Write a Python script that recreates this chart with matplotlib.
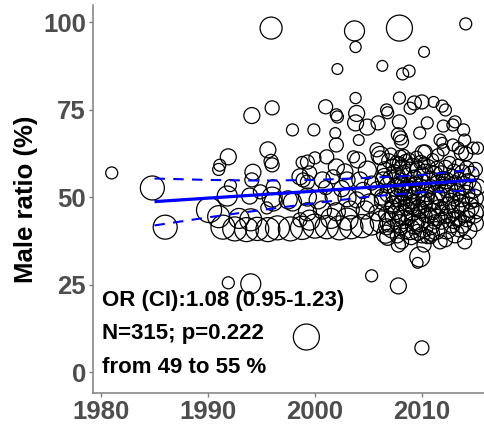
import numpy as np
import matplotlib
matplotlib.use("Agg")
import matplotlib.pyplot as plt

plt.rcParams['font.family'] = ['Liberation Sans', 'DejaVu Sans']

# early studies (before ~1999)
early_year = [1981.0, 1984.8, 1986.0, 1990.1, 1991.0, 1991.1, 1991.8, 1992.1, 1991.9, 1991.9,
              1994.0, 1994.1, 1995.9, 1996.0, 1995.6, 1995.9, 1996.0, 1994.2, 1997.9, 1994.1,
              1993.9, 1994.9, 1996.0, 1996.1, 1997.5, 1997.9, 1996.1, 1998.8, 1998.9, 1995.5,
              1998.6, 1998.6]
early_ratio = [57.0, 52.7, 41.5, 46.4, 58.0, 59.2, 50.4, 53.4, 61.6, 25.6,
               25.3, 73.4, 98.4, 75.6, 63.6, 60.3, 59.3, 57.2, 69.3, 55.0,
               50.4, 51.6, 50.1, 48.7, 49.3, 48.7, 53.0, 60.0, 55.0, 47.0,
               43.6, 55.9]
early_n = [38, 325, 325, 360, 38, 38, 208, 38, 112, 38,
           208, 112, 264, 73, 112, 73, 73, 112, 38, 73,
           112, 73, 208, 158, 158, 158, 73, 38, 73, 38,
           73, 112]

# lower band of large studies around 42 %
band_year = [1991.4, 1992.5, 1993.6, 1994.6, 1995.6, 1996.5, 1997.7, 1998.8, 2000.0, 2001.1,
             2002.3, 2003.4, 2004.4, 2005.3, 2006.2, 1991.0, 1992.9, 1994.0, 1999.5, 2001.5,
             2003.0]
band_ratio = [41.5, 41.0, 40.8, 41.0, 40.8, 41.3, 41.0, 41.3, 41.8, 41.5,
              41.3, 41.5, 41.8, 42.4, 43.0, 44.5, 44.0, 43.6, 43.5, 44.0,
              43.8]
band_n = [325, 325, 325, 300, 325, 325, 325, 300, 325, 300,
          325, 300, 300, 264, 264, 264, 208, 264, 208, 208,
          264]

# 1999-2006 middle
mid_year = [1999.3, 2000.0, 2001.1, 2002.0, 2003.6, 2004.0, 2002.8, 2004.9, 2006.1, 1999.5,
            1999.3, 2000.7, 2001.7, 2003.0, 2004.2, 2005.3, 2006.4, 1999.3, 2000.3, 2001.7,
            2003.0, 2003.9, 2005.1, 2006.3, 1999.3, 2000.7, 2002.0, 2003.3, 2004.7, 2005.8,
            2006.7, 2002.5, 2004.5, 2005.8, 2001.0]
mid_ratio = [60.1, 61.3, 61.6, 58.7, 61.6, 60.7, 57.3, 57.8, 61.3, 57.0,
             54.4, 55.0, 55.9, 55.0, 55.0, 54.1, 55.0, 50.1, 49.3, 50.1,
             49.9, 49.3, 48.4, 50.1, 45.9, 46.4, 45.9, 46.4, 46.4, 45.6,
             41.6, 52.5, 52.0, 52.5, 52.8]
mid_n = [73, 38, 73, 112, 38, 112, 112, 158, 73, 73,
         73, 112, 73, 112, 112, 73, 112, 158, 158, 112,
         158, 112, 158, 112, 158, 158, 158, 158, 158, 112,
         112, 112, 112, 73, 73]

# high ratios
high_year = [2003.7, 2003.8, 2007.9, 2014.1, 2010.2, 2002.1, 2006.3, 2008.2, 2008.8, 1999.9,
             2001.0, 2002.0, 2002.1, 2003.8, 2003.9, 2003.8, 2004.9, 2005.9, 2006.7, 2006.8,
             2007.9, 2007.9, 2008.9, 2009.3, 2010.0, 2011.1, 2011.9, 2012.2, 2012.0, 2012.9,
             2013.9, 2014.0, 2001.9, 2002.0, 2004.1, 2005.8, 2006.1, 2008.0, 2008.1, 2009.8,
             2010.1, 2010.3, 2011.9, 2013.7, 2014.1, 2010.5, 2013.1, 2012.9, 2013.4, 2014.8,
             2015.2, 2007.8, 2011.7, 2012.0]
high_ratio = [97.6, 93.0, 98.4, 99.6, 91.6, 86.7, 87.6, 85.3, 86.1, 69.3,
              75.9, 73.6, 73.0, 78.4, 74.0, 71.3, 70.1, 71.3, 75.0, 74.2,
              78.4, 71.6, 75.5, 77.0, 77.3, 77.3, 76.1, 75.0, 70.4, 70.7,
              69.3, 66.4, 68.4, 65.0, 66.4, 63.6, 62.0, 67.0, 65.9, 68.4,
              62.7, 63.0, 65.6, 62.7, 62.5, 71.3, 71.6, 65.0, 64.1, 64.1,
              64.1, 67.9, 66.4, 63.6]
high_n = [208, 25, 391, 38, 20, 20, 20, 38, 38, 38,
          73, 38, 38, 25, 112, 112, 112, 73, 38, 38,
          38, 73, 38, 73, 73, 20, 38, 38, 38, 38,
          38, 38, 20, 73, 20, 73, 158, 73, 73, 38,
          112, 73, 20, 73, 73, 38, 38, 38, 38, 38,
          38, 73, 38, 38]

# low ratios
low_year = [2005.3, 2007.8, 1999.2, 2010.0, 2009.6, 2009.8, 2007.8, 2008.1, 2010.2, 2011.7,
            2012.2, 2014.0, 2010.8]
low_ratio = [27.6, 24.7, 10.1, 7.0, 31.3, 33.0, 36.4, 37.3, 36.4, 37.3,
             37.9, 37.3, 38.5]
low_n = [38, 112, 391, 73, 20, 208, 73, 73, 73, 73,
         73, 73, 38]

# dense recent cluster
core_year = [2006.5, 2006.8, 2006.4, 2006.7, 2006.6, 2006.9, 2006.5,
             2007.1, 2006.9, 2007.2, 2007.0, 2007.3, 2006.8, 2007.1,
             2007.4, 2007.6, 2007.3, 2007.5, 2007.2, 2007.6, 2007.4,
             2007.9, 2007.7, 2008.0, 2007.8, 2007.6, 2007.9, 2007.7, 2008.0,
             2008.2, 2008.0, 2008.3, 2008.1, 2008.2, 2008.0, 2008.3, 2008.1,
             2008.5, 2008.3, 2008.6, 2008.4, 2008.6, 2008.3, 2008.5,
             2008.9, 2008.7, 2008.8, 2009.0, 2008.7, 2008.9, 2008.8, 2009.0,
             2009.1, 2009.3, 2009.0, 2009.2, 2009.1, 2009.3, 2009.0,
             2009.6, 2009.4, 2009.5, 2009.7, 2009.4, 2009.6, 2009.5, 2009.3,
             2009.9, 2010.0, 2009.8, 2010.1, 2009.9, 2009.8, 2010.0,
             2010.3, 2010.1, 2010.4, 2010.2, 2010.3, 2010.1, 2010.2, 2010.4,
             2010.6, 2010.8, 2010.5, 2010.7, 2010.6, 2010.8, 2010.5,
             2011.0, 2011.2, 2010.9, 2011.1, 2011.0, 2011.2, 2010.9,
             2011.4, 2011.5, 2011.3, 2011.6, 2011.4, 2011.3, 2011.5,
             2011.8, 2012.0, 2011.7, 2011.9, 2011.8, 2012.0,
             2012.2, 2012.3, 2012.1, 2012.4, 2012.2, 2012.3,
             2012.6, 2012.8, 2012.5, 2012.7, 2012.6, 2012.8,
             2013.0, 2013.1, 2012.9, 2013.2, 2013.0, 2013.1,
             2013.4, 2013.5, 2013.3, 2013.6, 2013.4, 2013.5,
             2013.8, 2013.9, 2013.7, 2014.0, 2013.8,
             2014.2, 2014.3, 2014.1, 2014.4, 2014.2, 2014.3,
             2014.6, 2014.7, 2014.5, 2014.8,
             2015.0, 2015.2, 2014.9, 2015.1, 2015.0]
core_ratio = [58.2, 53.5, 49.0, 45.2, 39.5, 60.5, 56.0,
              55.5, 51.2, 47.3, 43.0, 59.0, 38.6, 62.4,
              57.4, 52.8, 48.1, 44.6, 41.0, 60.2, 50.5,
              59.6, 56.1, 53.2, 49.8, 46.0, 42.5, 39.0, 61.8,
              58.5, 55.0, 51.6, 48.5, 45.1, 41.3, 62.0, 53.3,
              60.3, 56.8, 52.4, 50.0, 47.2, 43.7, 40.2,
              57.8, 54.2, 51.0, 47.6, 44.2, 40.8, 61.0, 49.0,
              59.1, 55.4, 52.1, 48.8, 45.6, 42.1, 38.5,
              58.0, 53.8, 50.6, 47.0, 43.5, 40.0, 61.5, 55.8,
              60.0, 56.4, 52.7, 49.4, 46.3, 42.8, 39.3,
              57.2, 54.6, 51.4, 48.0, 44.9, 41.5, 59.8, 50.0,
              58.8, 55.2, 52.0, 48.6, 45.0, 41.9, 38.8,
              60.8, 56.6, 53.0, 49.2, 46.0, 43.0, 39.8,
              58.3, 54.0, 50.8, 47.4, 44.3, 40.5, 62.2,
              57.0, 53.6, 50.2, 46.8, 43.2, 55.4,
              58.6, 54.8, 51.2, 47.8, 44.6, 41.0,
              60.0, 56.0, 52.5, 48.9, 45.3, 42.2,
              57.5, 53.9, 50.4, 46.6, 43.4, 39.6,
              59.2, 55.2, 51.6, 48.1, 44.0, 41.3,
              57.0, 53.4, 49.6, 45.8, 42.4,
              58.4, 54.5, 50.9, 47.2, 43.9, 40.6,
              56.6, 52.3, 49.0, 45.5,
              58.0, 53.0, 49.8, 46.2, 42.6]
core_n = [73, 112, 158, 112, 158, 73, 112,
          112, 158, 73, 208, 73, 112, 38,
          73, 158, 112, 208, 158, 38, 112,
          73, 112, 208, 158, 112, 158, 73, 38,
          112, 73, 158, 112, 208, 73, 38, 112,
          73, 112, 158, 73, 112, 158, 73,
          112, 73, 158, 112, 73, 208, 38, 112,
          73, 112, 158, 73, 112, 158, 73,
          112, 73, 158, 112, 208, 112, 38, 73,
          73, 112, 158, 73, 112, 158, 112,
          112, 73, 158, 112, 73, 208, 38, 112,
          73, 112, 73, 158, 112, 158, 73,
          38, 112, 73, 158, 112, 73, 112,
          73, 112, 158, 73, 112, 158, 38,
          73, 112, 158, 73, 112, 73,
          73, 112, 158, 112, 73, 208,
          38, 73, 158, 112, 158, 112,
          73, 112, 73, 158, 112, 158,
          38, 73, 112, 158, 112, 158,
          112, 158, 112, 208, 158,
          73, 112, 158, 208, 112, 158,
          112, 158, 112, 208,
          73, 112, 158, 112, 112]

# logistic fit and 95% band
fit_year = [1985, 1990, 1995, 2000, 2005, 2010, 2015]
fit_mid = [48.8, 49.8, 50.8, 51.8, 52.9, 53.9, 55.0]
fit_lo = [42.0, 44.3, 46.4, 48.4, 50.2, 51.5, 52.0]
fit_hi = [55.4, 55.0, 54.8, 55.0, 55.6, 56.4, 58.0]

year = np.array(early_year + band_year + mid_year + high_year + low_year + core_year)
ratio = np.array(early_ratio + band_ratio + mid_ratio + high_ratio + low_ratio + core_ratio)
n = np.array(early_n + band_n + mid_n + high_n + low_n + core_n)

fig = plt.figure(figsize=(4.85, 4.26), dpi=100)
ax = fig.add_axes([93 / 485, 33 / 426, 392 / 485, 388 / 426])

ax.scatter(year, ratio, s=45 + 0.78 * n, facecolors='none', edgecolors='black', linewidths=0.9)
ax.plot(fit_year, fit_mid, color='blue', lw=2.3, solid_capstyle='butt')
ax.plot(fit_year, fit_lo, color='blue', lw=1.5, dashes=(5, 4))
ax.plot(fit_year, fit_hi, color='blue', lw=1.5, dashes=(5, 4))

ax.set_xlim(1979.25, 2015.9)
ax.set_ylim(-5.9, 105)
ax.set_xticks([1980, 1990, 2000, 2010])
ax.set_yticks([0, 25, 50, 75, 100])
for s in ['top', 'right']:
    ax.spines[s].set_visible(False)
for s in ['left', 'bottom']:
    ax.spines[s].set_color('#7f7f7f')
    ax.spines[s].set_linewidth(1.1)
ax.tick_params(colors='#7f7f7f', length=3, width=1.0, labelsize=18.5, pad=2)
for lab in ax.get_xticklabels() + ax.get_yticklabels():
    lab.set_color('#4d4d4d')
    lab.set_fontweight('bold')
ax.set_ylabel('Male ratio (%)', fontsize=18.5, fontweight='bold', labelpad=4)

txt = ['OR (CI):1.08 (0.95-1.23)', 'N=315; p=0.222', 'from 49 to 55 %']
for i, t in enumerate(txt):
    ax.text(1980.1, 20.5 - 9.5 * i, t, fontsize=16, fontweight='bold', va='center', ha='left')

fig.savefig('out.png', dpi=100)
